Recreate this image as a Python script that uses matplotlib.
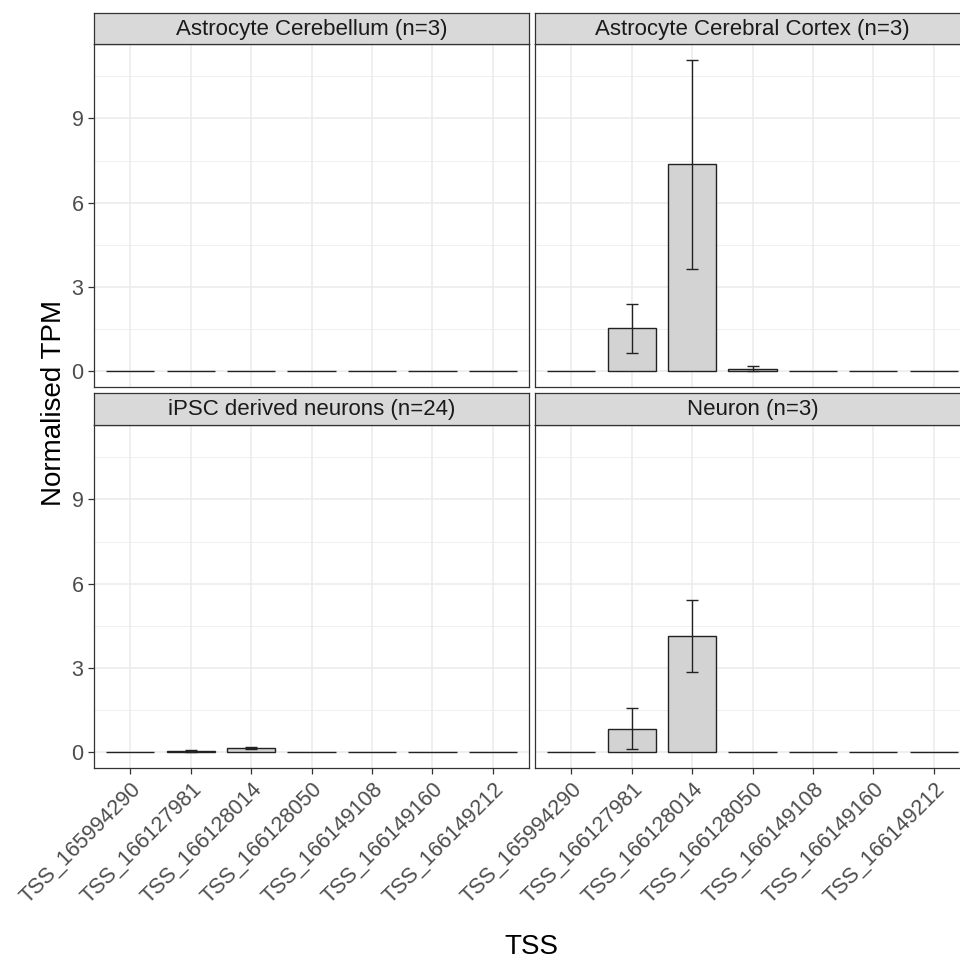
import matplotlib
matplotlib.use("Agg")
import matplotlib.pyplot as plt
import numpy as np

plt.rcParams['font.family'] = ['Liberation Sans', 'DejaVu Sans']

tss = ["TSS_165994290", "TSS_166127981", "TSS_166128014", "TSS_166128050",
       "TSS_166149108", "TSS_166149160", "TSS_166149212"]

panels = ["Astrocyte Cerebellum (n=3)", "Astrocyte Cerebral Cortex (n=3)",
          "iPSC derived neurons (n=24)", "Neuron (n=3)"]

mean_astro_cb = [0, 0, 0, 0, 0, 0, 0]
lo_astro_cb = [0, 0, 0, 0, 0, 0, 0]
hi_astro_cb = [0, 0, 0, 0, 0, 0, 0]

mean_astro_ctx = [0, 1.54, 7.36, 0.095, 0, 0, 0]
lo_astro_ctx = [0, 0.66, 3.63, 0.01, 0, 0, 0]
hi_astro_ctx = [0, 2.39, 11.09, 0.18, 0, 0, 0]

mean_ipsc = [0, 0.06, 0.17, 0, 0, 0, 0]
lo_ipsc = [0, 0.02, 0.13, 0, 0, 0, 0]
hi_ipsc = [0, 0.10, 0.21, 0, 0, 0, 0]

mean_neuron = [0, 0.84, 4.14, 0, 0, 0, 0]
lo_neuron = [0, 0.12, 2.87, 0, 0, 0, 0]
hi_neuron = [0, 1.57, 5.41, 0, 0, 0, 0]

series = [(mean_astro_cb, lo_astro_cb, hi_astro_cb),
          (mean_astro_ctx, lo_astro_ctx, hi_astro_ctx),
          (mean_ipsc, lo_ipsc, hi_ipsc),
          (mean_neuron, lo_neuron, hi_neuron)]

W, H = 960, 961
fig = plt.figure(figsize=(W / 100, H / 100), dpi=100)

def px_axes(x0, y0, x1, y1):
    return fig.add_axes([x0 / W, 1 - y1 / H, (x1 - x0) / W, (y1 - y0) / H])

grey20 = "#333333"
grey30 = "#4D4D4D"
grey92 = "#EBEBEB"

ymax_all = max(max(s[2]) for s in series)
ylo = -0.05 * ymax_all
yhi = ymax_all * 1.05

cols = [(94, 529), (535, 970)]
rows = [(13, 44, 387), (393, 425, 768)]

for i, (name, (mean, lo, hi)) in enumerate(zip(panels, series)):
    r, c = divmod(i, 2)
    x0, x1 = cols[c]
    s0, p0, p1 = rows[r]
    ax = px_axes(x0, p0, x1, p1)
    x = np.arange(len(tss))
    ax.set_xlim(-0.6, len(tss) - 1 + 0.6)
    ax.set_ylim(ylo, yhi)
    ax.set_yticks([0, 3, 6, 9])
    ax.set_yticks([1.5, 4.5, 7.5, 10.5], minor=True)
    ax.set_xticks(x)
    ax.grid(True, which='major', color=grey92, linewidth=1.1, zorder=0)
    ax.grid(True, which='minor', axis='y', color=grey92, linewidth=0.55, zorder=0)
    ax.set_axisbelow(True)
    ax.bar(x, mean, width=0.8, color="#D3D3D3", edgecolor="#222222",
           linewidth=1.0, zorder=2)
    m = np.array(mean)
    err = np.array([m - np.array(lo), np.array(hi) - m])
    nz = np.array(hi) > 0
    ax.errorbar(x[nz], m[nz], yerr=err[:, nz], fmt='none',
                ecolor="#222222", elinewidth=1.0, capsize=4.0, capthick=1.0,
                zorder=3)
    for sp in ax.spines.values():
        sp.set_color(grey20)
        sp.set_linewidth(0.9)
    ax.tick_params(which='major', length=4, width=0.9, color=grey20,
                   labelcolor=grey30, labelsize=15.5)
    ax.tick_params(which='minor', length=0)
    if c == 0:
        ax.set_yticklabels(["0", "3", "6", "9"])
    else:
        ax.tick_params(axis='y', which='both', left=False, labelleft=False)
    if r == 1:
        ax.set_xticklabels(tss, rotation=45, ha='right', va='top',
                           rotation_mode='anchor')
    else:
        ax.tick_params(axis='x', which='both', bottom=False, labelbottom=False)

    sax = px_axes(x0, s0, x1, p0)
    sax.set_facecolor("#D9D9D9")
    sax.set_xticks([])
    sax.set_yticks([])
    for sp in sax.spines.values():
        sp.set_color(grey20)
        sp.set_linewidth(0.9)
    sax.text(0.5, 0.47, name, ha='center', va='center', fontsize=16,
             color="#1A1A1A", transform=sax.transAxes)

fig.text(54 / W, 1 - 403 / H, "Normalised TPM", rotation=90, ha='center',
         va='center', fontsize=20, color="black")
fig.text(531 / W, 1 - 954 / H, "TSS", ha='center', va='baseline',
         fontsize=20, color="black")

fig.savefig("out.png", dpi=100)
